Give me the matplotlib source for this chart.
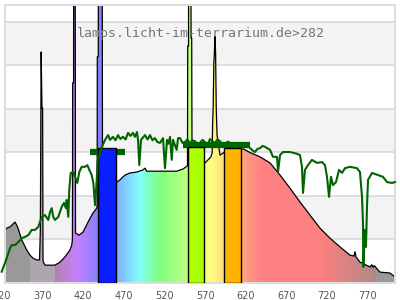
import numpy as np
import matplotlib
matplotlib.use("Agg")
import matplotlib.pyplot as plt
from matplotlib.colors import LinearSegmentedColormap
from matplotlib.transforms import ScaledTranslation

# lamp spectrum (black), wavelength in nm / relative level (1 = one grid band)
lamp_nm = [320.0, 322.1, 326.2, 332.3, 334.4, 336.0, 340.6, 346.7, 350.8, 354.5,
           359.0, 362.5, 363.5, 364.5, 365.5, 366.3, 366.8, 369.2, 381.5, 387.7,
           393.8, 400.0, 402.1, 403.0, 403.3, 404.4, 404.6, 406.3, 406.8, 411.1,
           416.0, 422.2, 428.3, 432.9, 433.4, 433.6, 434.8, 435.0, 439.6, 440.0,
           445.0, 457.5, 461.5, 465.2, 467.7, 473.8, 482.1, 489.8, 492.3, 494.4,
           510.8, 531.3, 539.1, 542.8, 544.6, 544.9, 545.9, 546.1, 548.8, 549.0,
           549.8, 550.2, 566.2, 569.8, 573.5, 575.0, 575.5, 576.2, 577.0, 577.7,
           578.3, 579.2, 580.0, 581.0, 584.6, 589.5, 611.3, 621.5, 633.8, 646.2,
           658.5, 670.8, 683.1, 695.4, 707.7, 720.0, 732.3, 744.6, 749.5, 750.8,
           752.0, 756.9, 769.2, 771.5, 772.9, 774.5, 781.5, 793.8, 800.0]
lamp_val = [1.20, 1.26, 1.29, 1.40, 1.33, 1.26, 0.99, 0.76, 0.64, 0.57,
            0.53, 0.53, 1.20, 5.31, 4.02, 4.02, 0.50, 0.41, 0.41, 0.48,
            0.60, 0.76, 0.87, 1.00, 4.60, 4.60, 9.00, 9.00, 1.15, 1.10,
            1.17, 1.40, 1.61, 1.72, 1.80, 5.20, 5.20, 9.00, 9.00, 2.40,
            2.35, 2.32, 2.37, 2.44, 2.48, 2.53, 2.55, 2.60, 2.64, 2.57,
            2.57, 2.57, 2.62, 2.67, 2.70, 5.45, 5.45, 9.00, 9.00, 5.63,
            5.63, 2.80, 2.76, 2.83, 2.90, 3.00, 3.63, 4.02, 5.03, 5.29,
            5.68, 5.29, 4.02, 3.40, 2.94, 3.00, 3.10, 3.00, 2.90, 2.76,
            2.48, 2.18, 1.86, 1.56, 1.26, 1.03, 0.83, 0.64, 0.62, 0.72,
            0.60, 0.48, 0.37, 0.42, 0.36, 0.40, 0.25, 0.23, 0.14]

# reference spectrum (green)
ref_nm = [315.9, 320.0, 324.1, 326.2, 328.2, 332.3, 336.4, 340.6, 344.6, 348.7,
          352.9, 356.9, 361.0, 365.2, 369.2, 373.3, 375.4, 377.5, 379.4, 381.5,
          385.6, 389.8, 392.6, 395.1, 395.9, 397.9, 399.1, 400.9, 404.1, 406.2,
          409.0, 411.4, 414.4, 418.5, 421.3, 423.8, 426.7, 428.7, 430.8, 432.9,
          434.1, 439.4, 443.1, 446.8, 449.2, 452.9, 456.0, 459.1, 462.0, 465.2,
          468.5, 471.4, 474.5, 477.5, 480.0, 482.5, 483.7, 485.3, 487.4, 490.0,
          492.3, 495.5, 498.5, 501.5, 504.6, 507.5, 510.8, 514.5, 516.9, 519.4,
          521.0, 523.1, 525.2, 526.8, 529.0, 531.3, 533.0, 535.4, 538.5, 541.5,
          544.5, 547.7, 550.5, 553.8, 557.0, 560.0, 563.0, 566.2, 569.0, 572.3,
          575.5, 578.5, 581.5, 584.6, 587.5, 590.8, 594.0, 596.9, 600.0, 603.1,
          606.0, 609.2, 612.5, 615.4, 618.5, 621.5, 624.5, 627.7, 630.5, 633.8,
          637.0, 640.0, 646.2, 649.8, 654.8, 656.0, 658.5, 662.2,
          670.8, 679.4, 683.1, 685.5, 686.8, 689.2, 692.9, 697.8, 704.0, 710.2,
          713.8, 716.3, 718.8, 721.2, 723.7, 727.4, 731.1, 734.8, 738.5, 744.6,
          753.2, 756.9, 759.4, 760.6, 761.0, 763.1, 764.3, 765.5, 766.8, 771.7,
          779.1, 785.2, 790.2, 796.3, 800.0]
ref_val = [0.26, 0.46, 0.69, 0.80, 0.87, 0.87, 0.94, 1.03, 1.06, 1.10,
           1.22, 1.22, 1.29, 1.52, 1.56, 1.45, 1.63, 1.72, 1.52, 1.45,
           1.52, 1.75, 1.84, 1.72, 1.91, 1.52, 2.14, 2.53, 2.55, 2.44,
           2.30, 2.55, 2.67, 2.67, 2.71, 2.60, 2.48, 2.30, 1.79, 2.37,
           2.83, 3.13, 3.29, 3.40, 3.29, 3.36, 3.28, 3.40, 3.31, 3.36,
           3.30, 3.45, 3.38, 3.45, 3.36, 3.47, 3.29, 2.71, 3.29, 3.35,
           3.40, 3.30, 3.40, 3.28, 3.33, 3.24, 3.22, 3.33, 2.64, 3.29,
           3.20, 3.36, 2.83, 3.29, 3.18, 3.06, 3.33, 3.33, 3.22, 3.24,
           3.30, 3.20, 3.28, 3.26, 3.18, 3.22, 3.29, 3.24, 3.16, 3.31,
           3.25, 3.22, 3.30, 3.26, 3.19, 3.17, 3.25, 3.22, 3.14, 3.15,
           3.21, 3.17, 3.10, 3.13, 3.18, 3.10, 3.05, 3.01, 3.08, 3.10,
           3.15, 3.13, 3.06, 2.90, 2.90, 2.55, 2.94, 3.01,
           3.01, 2.97, 2.94, 2.67, 2.07, 2.60, 2.71, 2.83, 2.76, 2.78,
           2.71, 2.44, 1.98, 2.44, 2.25, 2.32, 2.60, 2.53, 2.64, 2.67,
           2.64, 2.55, 1.98, 1.38, 0.37, 1.22, 0.83, 1.75, 2.37, 2.53,
           2.48, 2.44, 2.32, 2.30, 2.32]

# highlighted bands
band_lo = [435, 545, 590]
band_hi = [456, 565, 610]
band_val = [3.10, 3.13, 3.10]
band_colors = ['#0a1eff', '#aaff00', '#ffb200']

# caps (green horizontal bars)
cap_lo = [424.6, 539.0]
cap_hi = [467.7, 621.5]
cap_val = [3.02, 3.18]

xticks = list(range(320, 771, 50))
wl_min, wl_max = 320, 800
ymax = 6.39

# fill colour along the wavelength axis
grad_stops = [(320, '#999999'), (350.5, '#999999'), (351, '#aea6ae'), (381, '#aea6ae'),
              (381.5, '#b080b0'), (395, '#c080d8'), (410, '#c080ff'), (425, '#a080ff'),
              (436, '#8080ff'), (450, '#8090ff'), (457, '#80b0ff'), (470, '#80d0ff'),
              (485, '#80ffff'), (497, '#80ffc0'), (510, '#80ff80'), (530, '#a0ff80'),
              (545, '#c0ff80'), (555, '#d8ff80'), (565, '#f0ff80'), (572, '#ffff80'),
              (585, '#ffe880'), (595, '#ffd080'), (605, '#ffb880'), (615, '#ffa080'),
              (630, '#ff8888'), (640, '#ff8080'), (710, '#ff8080'), (777, '#b08888'),
              (777.5, '#999999'), (800, '#999999')]
cmap = LinearSegmentedColormap.from_list(
    'spec', [((w - wl_min) / (wl_max - wl_min), c) for w, c in grad_stops], N=1024)

fig = plt.figure(figsize=(4, 3), dpi=100)
ax = fig.add_axes([5 / 400, 17 / 300, 390 / 400, 278 / 300])
ax.set_xlim(wl_min, wl_max)
ax.set_ylim(0, ymax)

# background bands + grid
for lo in [1, 3, 5]:
    ax.axhspan(lo, lo + 1, color='#f3f3f3', zorder=0, lw=0)
for v in range(1, 7):
    ax.axhline(v, color='#d9d9d9', lw=1.2, zorder=0.5)

# gradient under the lamp spectrum
poly = ax.fill_between(lamp_nm, lamp_val, 0, facecolor='none', edgecolor='none')
grad = np.linspace(0, 1, 960)[None, :]
img = ax.imshow(grad, extent=[wl_min, wl_max, 0, ymax], aspect='auto', cmap=cmap,
                origin='lower', zorder=1, interpolation='nearest')
img.set_clip_path(poly.get_paths()[0], transform=ax.transData)
ax.plot(lamp_nm, lamp_val, color='black', lw=0.9, zorder=2)

for lo, hi, v in zip(cap_lo, cap_hi, cap_val):
    ax.plot([lo, hi], [v, v], color='#006400', lw=4.5, solid_capstyle='butt', zorder=2.5)

for lo, hi, v, c in zip(band_lo, band_hi, band_val, band_colors):
    ax.bar(lo, v, width=hi - lo, align='edge', color=c, edgecolor='black', lw=1.0, zorder=3)

ax.plot(ref_nm, ref_val, color='#006400', lw=1.5, zorder=4, clip_on=False)

ax.text(0.1846, 0.885, 'lamps.licht-im-terrarium.de>282', transform=ax.transAxes,
        family='DejaVu Sans Mono', fontsize=9.5, color='#777777', va='baseline', zorder=5)

ax.set_xticks(xticks)
ax.set_yticks([])
ax.tick_params(axis='x', length=0, labelsize=7, labelcolor='#555555', pad=5.5)
shift = ScaledTranslation(-3 / 100, 0, fig.dpi_scale_trans)
for lab in ax.get_xticklabels():
    lab.set_transform(lab.get_transform() + shift)
for sp in ax.spines.values():
    sp.set_color('#dddddd')
    sp.set_linewidth(1.5)

fig.savefig('out.png', dpi=100)
